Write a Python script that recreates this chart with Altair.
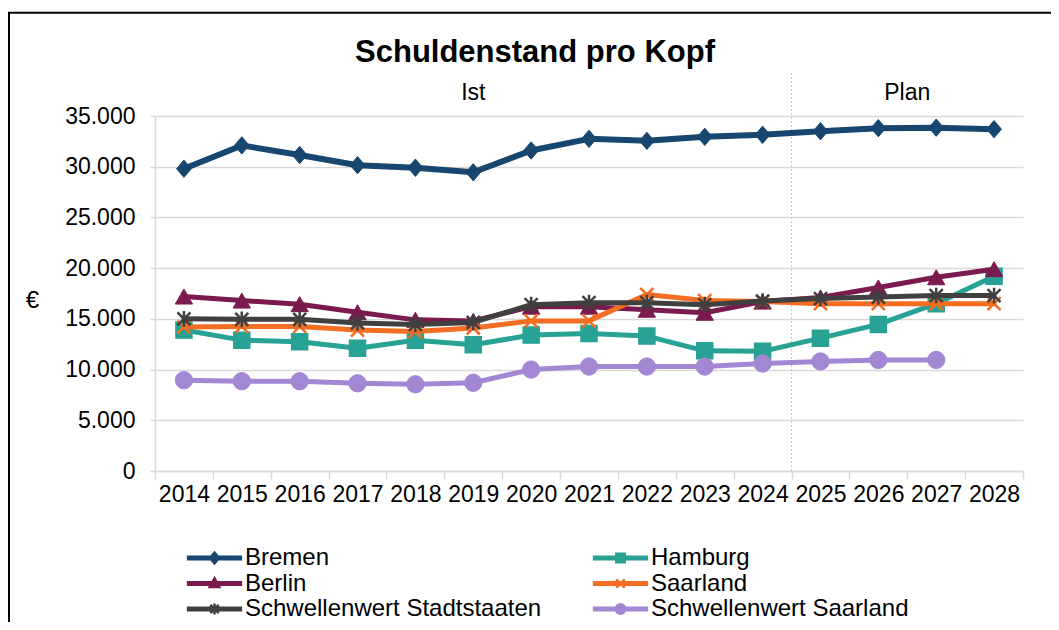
import altair as alt
import pandas as pd

# ---------------- data ----------------
years = [str(y) for y in range(2014, 2029)]
series_names = ["Bremen", "Hamburg", "Berlin", "Saarland",
                "Schwellenwert Stadtstaaten", "Schwellenwert Saarland"]

bremen = [29800, 32100, 31150, 30150, 29900, 29450, 31600, 32750, 32550, 32950, 33150, 33500, 33800, 33850, 33700]
hamburg = [13900, 12900, 12750, 12100, 12900, 12450, 13400, 13550, 13300, 11850, 11800, 13100, 14450, 16500, 19200]
berlin = [17200, 16800, 16450, 15650, 14900, 14800, 16200, 16200, 15900, 15600, 16700, 17100, 18100, 19100, 19900]
saarland = [14200, 14250, 14250, 13900, 13750, 14100, 14800, 14800, 17400, 16800, 16700, 16500, 16500, 16500, 16500]
schw_stadt = [15000, 14950, 14950, 14600, 14450, 14650, 16400, 16600, 16600, 16400, 16750, 17000, 17150, 17300, 17300]
schw_saar = [8950, 8850, 8850, 8650, 8550, 8700, 10000, 10300, 10300, 10300, 10600, 10800, 10950, 10950, None]
all_values = [bremen, hamburg, berlin, saarland, schw_stadt, schw_saar]

y_ticks = [0, 5000, 10000, 15000, 20000, 25000, 30000, 35000]
title_text = "Schuldenstand pro Kopf"
y_title = "€"
period_labels = ["Ist", "Plan"]
period_years = ["2019", "2026"]
plan_start_year = "2025"

# ---------------- styles ----------------
colors = ["#17466F", "#27A294", "#7A1A4F", "#F36D22", "#404040", "#A487D3"]
marker_shapes = [
    "M0,-1L0.85,0L0,1L-0.85,0Z",
    "square",
    "triangle-up",
    "M-1,-1L1,1M-1,1L1,-1",
    "M-1,-1L1,1M-1,1L1,-1M0,-1.2L0,1.2",
    "circle",
]
marker_sizes = [300, 256, 300, 170, 170, 300]
marker_stroke = [1, 1.5, 1, 2.5, 2.5, 1]
line_widths = [6, 5, 5, 5, 5, 5]

LINE = "M-4.4,-0.22L4.4,-0.22L4.4,0.22L-4.4,0.22Z"
legend_shapes = [
    LINE + "M0,-0.9L0.75,0L0,0.9L-0.75,0Z",
    LINE + "M-0.7,-0.7L0.7,-0.7L0.7,0.7L-0.7,0.7Z",
    LINE + "M0,-0.85L0.8,0.6L-0.8,0.6Z",
    LINE + "M-0.7,-0.7L0.7,0.7M-0.7,0.7L0.7,-0.7",
    LINE + "M-0.7,-0.7L0.7,0.7M-0.7,0.7L0.7,-0.7M0,-0.9L0,0.9",
    LINE + "M0.8,0A0.8,0.8,0,1,1,-0.8,0A0.8,0.8,0,1,1,0.8,0Z",
]
# legend is filled column by column: left column first, then right column
legend_order = [0, 2, 4, 1, 3, 5]
legend_names = [series_names[i] for i in legend_order]
legend_colors = [colors[i] for i in legend_order]
legend_symbols = [legend_shapes[i] for i in legend_order]

FONT = "Liberation Sans"
GRID = "#d9d9d9"

rows = []
for name, vals in zip(series_names, all_values):
    for yr, v in zip(years, vals):
        if v is not None:
            rows.append({"year": yr, "series": name, "value": v})
df = pd.DataFrame(rows)

x_scale = alt.Scale(type="band", domain=years, paddingInner=0, paddingOuter=0)
x_axis = alt.Axis(title=None, labelAngle=0, labelFont=FONT, labelFontSize=23,
                  labelColor="#000000", tickBand="extent", tickSize=8,
                  tickColor=GRID, tickWidth=1.5, domainColor=GRID, domainWidth=1.5,
                  labelPadding=4, grid=False)
y_scale = alt.Scale(domain=[0, 35000], nice=False)
y_axis = alt.Axis(title=y_title, titleAngle=0, titleX=-123, titleY=184,
                  titleFont=FONT, titleFontSize=24, titleFontWeight="normal",
                  titleColor="#000000", titleAlign="center", titleBaseline="middle",
                  values=y_ticks,
                  labelExpr="replace(format(datum.value, ',d'), ',', '.')",
                  labelFont=FONT, labelFontSize=23, labelColor="#000000",
                  labelPadding=15, tickSize=5, tickColor=GRID, tickWidth=1.5,
                  domainColor=GRID, domainWidth=1.5,
                  grid=True, gridColor=GRID, gridWidth=1.5)

def X(**kw):
    return alt.X("year:O", scale=x_scale, axis=x_axis, **kw)

def Y():
    return alt.Y("value:Q", scale=y_scale, axis=y_axis)

base = alt.Chart(df)

layers = []

# frame
frame_df = pd.DataFrame({"k": [1]})
layers.append(
    alt.Chart(frame_df).mark_rect(fillOpacity=0, stroke="#000000", strokeWidth=2)
    .encode(x=alt.value(-146), x2=alt.value(1100), y=alt.value(-103.3), y2=alt.value(700))
)

# divider Ist / Plan
layers.append(
    alt.Chart(pd.DataFrame({"year": [plan_start_year]}))
    .mark_rule(color="#c8c8c8", strokeDash=[2, 2], strokeWidth=1)
    .encode(x=X(bandPosition=0), y=alt.value(-43), y2=alt.value(355))
)

# period labels
layers.append(
    alt.Chart(pd.DataFrame({"year": [period_years[0]], "label": [period_labels[0]]}))
    .mark_text(font=FONT, fontSize=23, color="#000000", align="center", baseline="alphabetic")
    .encode(x=X(bandPosition=0.5), y=alt.value(-16), text="label:N")
)
layers.append(
    alt.Chart(pd.DataFrame({"year": [period_years[1]], "label": [period_labels[1]]}))
    .mark_text(font=FONT, fontSize=23, color="#000000", align="center", baseline="alphabetic")
    .encode(x=X(bandPosition=1), y=alt.value(-16), text="label:N")
)

# title
layers.append(
    alt.Chart(pd.DataFrame({"t": [title_text]}))
    .mark_text(font=FONT, fontSize=31, fontWeight="bold", color="#000000",
               align="center", baseline="alphabetic")
    .encode(x=alt.value(380), y=alt.value(-54), text="t:N")
)

# series (drawn in order: line then markers)
for i, name in enumerate(series_names):
    sub = base.transform_filter(alt.datum.series == name)
    layers.append(
        sub.mark_line(color=colors[i], strokeWidth=line_widths[i],
                      strokeJoin="round", strokeCap="round")
        .encode(x=X(), y=Y())
    )
    layers.append(
        sub.mark_point(shape=marker_shapes[i], size=marker_sizes[i], filled=True,
                       fill=colors[i], stroke=colors[i], strokeWidth=marker_stroke[i],
                       opacity=1)
        .encode(x=X(), y=Y())
    )

# legend (drawn from scales only)
leg = alt.Legend(title=None, orient="none", legendX=47.5, legendY=430, columns=2,
                 labelFont=FONT, labelFontSize=24, labelColor="#000000", labelLimit=500,
                 symbolSize=144, symbolStrokeWidth=2.5, labelOffset=18.5,
                 columnPadding=47, rowPadding=1.5, padding=0)
layers.append(
    base.transform_filter("false")
    .mark_point(filled=True, opacity=1)
    .encode(
        x=X(), y=Y(),
        fill=alt.Fill("series:N", scale=alt.Scale(domain=legend_names, range=legend_colors), legend=leg),
        stroke=alt.Stroke("series:N", scale=alt.Scale(domain=legend_names, range=legend_colors), legend=leg),
        shape=alt.Shape("series:N", scale=alt.Scale(domain=legend_names, range=legend_symbols), legend=leg),
    )
)

chart = (
    alt.layer(*layers)
    .properties(width=868, height=355,
                autosize=alt.AutoSizeParams(type="none"),
                padding={"left": 147, "top": 108, "right": 28, "bottom": 151})
    .configure_view(stroke=None)
)

chart.save("out.html", embed_options={"renderer": "svg", "actions": False})
